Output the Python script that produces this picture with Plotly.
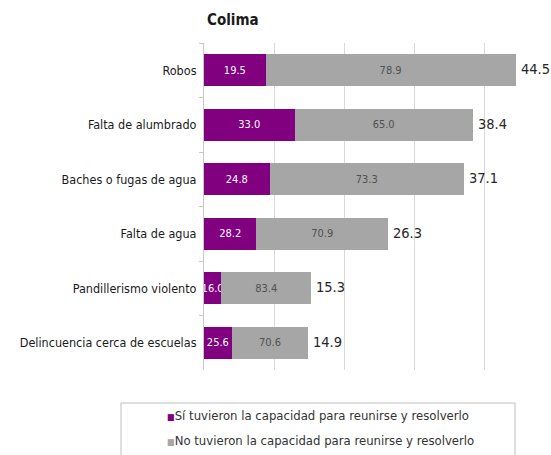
import plotly.graph_objects as go

# Problem categories (top to bottom) and survey results for Colima
categories = [
    "Robos",
    "Falta de alumbrado",
    "Baches o fugas de agua",
    "Falta de agua",
    "Pandillerismo violento",
    "Delincuencia cerca de escuelas",
]
si_pct = [19.5, 33.0, 24.8, 28.2, 16.0, 25.6]   # % able to meet and solve it
no_pct = [78.9, 65.0, 73.3, 70.9, 83.4, 70.6]   # % not able to
totals = [44.5, 38.4, 37.1, 26.3, 15.3, 14.9]   # % reporting the problem

legend_labels = [
    "Sí tuvieron la capacidad para reunirse y resolverlo",
    "No tuvieron la capacidad para reunirse y resolverlo",
]

PURPLE = "#800080"
GREY = "#a6a6a6"
FONT = "Liberation Sans Narrow, DejaVu Sans Condensed, Arial Narrow, sans-serif"

W, H = 551, 455
L, R, T, B = 204, 0, 43, 85
PW, PH = W - L - R, H - T - B
XMAX = PW / 7.0  # 10 units per 70 px

# each bar spans the total; split proportionally between the two answers
si_len = [t * s / (s + n) for t, s, n in zip(totals, si_pct, no_pct)]
no_len = [t * n / (s + n) for t, s, n in zip(totals, si_pct, no_pct)]

fig = go.Figure()
fig.add_bar(
    y=categories, x=si_len, orientation="h", name=legend_labels[0],
    marker=dict(color=PURPLE, line=dict(width=0)),
    text=[f"{v:.1f}" for v in si_pct], textposition="inside",
    insidetextanchor="middle", constraintext="none", textangle=0,
    textfont=dict(family=FONT, size=11, color="white"),
    hoverinfo="skip",
)
fig.add_bar(
    y=categories, x=no_len, orientation="h", name=legend_labels[1],
    marker=dict(color=GREY, line=dict(width=0)),
    text=[f"{v:.1f}" for v in no_pct], textposition="inside",
    insidetextanchor="middle", constraintext="none", textangle=0,
    textfont=dict(family=FONT, size=11, color="#505050"),
    hoverinfo="skip",
)

# totals at the end of each bar
for c, t in zip(categories, totals):
    fig.add_annotation(
        x=t, y=c, xref="x", yref="y", text=f"{t:.1f}", showarrow=False,
        xanchor="left", xshift=3, yshift=1,
        font=dict(family=FONT, size=14.5, color="#262626"),
    )


def px(xp):
    return (xp - L) / PW


def py(yp):
    return (H - B - yp) / PH


# legend box drawn as text rows inside a framed rectangle
fig.add_shape(
    type="rect", xref="paper", yref="paper",
    x0=px(121), x1=px(515), y0=py(462), y1=py(403),
    line=dict(color="#bfbfbf", width=1), fillcolor="white", layer="below",
)
for lbl, col, yy in zip(legend_labels, [PURPLE, GREY], [415, 440]):
    fig.add_annotation(
        xref="paper", yref="paper", x=px(165), y=py(yy),
        xanchor="left", yanchor="middle", showarrow=False,
        text=f'<span style="color:{col};font-size:9px">■</span>{lbl}',
        font=dict(family=FONT, size=13, color="#333333"),
    )

fig.update_layout(
    width=W, height=H,
    margin=dict(l=L, r=R, t=T, b=B, pad=0),
    barmode="stack", bargap=0.41,
    showlegend=False,
    paper_bgcolor="white", plot_bgcolor="white",
    font=dict(family=FONT, color="#1a1a1a"),
    title=dict(
        text="<b>Colima</b>", xref="container", yref="container",
        x=207 / W, y=1 - 20 / H, xanchor="left", yanchor="middle",
        font=dict(family=FONT, size=15, color="#1a1a1a"),
    ),
    xaxis=dict(
        range=[0, XMAX], dtick=10, tick0=0, showticklabels=False,
        showgrid=True, gridcolor="#d9d9d9", gridwidth=1,
        zeroline=False, showline=False, ticks="",
    ),
    yaxis=dict(
        autorange="reversed", showgrid=False, zeroline=False,
        showline=True, linecolor="#c8c8c8", linewidth=1,
        ticks="outside", ticklen=4, tickcolor="#c8c8c8", tickson="boundaries",
        ticklabelstandoff=4,
        tickfont=dict(family=FONT, size=12.5, color="#1a1a1a"),
    ),
)

fig.write_html("out.html")
